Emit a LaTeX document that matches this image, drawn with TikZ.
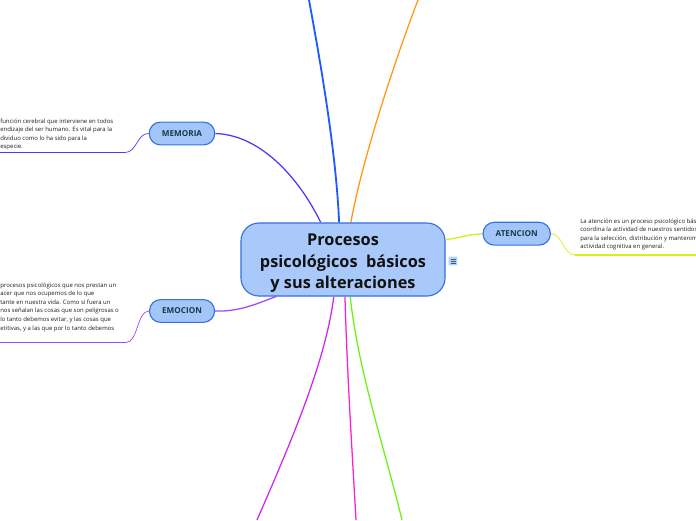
\documentclass[tikz,border=0pt]{standalone}
\usepackage{fontspec}
\setmainfont{Open Sans}
\usetikzlibrary{positioning, backgrounds}

\definecolor{hubfill}{RGB}{168,201,250}
\definecolor{hubline}{RGB}{52,112,222}
\definecolor{topicfill}{RGB}{162,198,250}
\definecolor{titletext}{RGB}{17,17,17}
\definecolor{topictext}{RGB}{22,58,70}
\definecolor{notetext}{RGB}{30,30,30}
\definecolor{memcol}{RGB}{85,55,240}
\definecolor{emocol}{RGB}{165,70,245}
\definecolor{atecol}{RGB}{215,240,20}
\definecolor{bluecol}{RGB}{30,90,255}
\definecolor{orangecol}{RGB}{255,150,20}
\definecolor{violetcol}{RGB}{205,40,240}
\definecolor{pinkcol}{RGB}{255,30,210}
\definecolor{greencol}{RGB}{110,240,20}
\definecolor{iconfill}{RGB}{182,210,250}
\definecolor{iconline}{RGB}{50,95,110}

\begin{document}
\begin{tikzpicture}[x=0.025cm, y=-0.025cm,
    hub/.style={rectangle, rounded corners=0.45cm, draw=hubline, fill=hubfill, line width=0.8pt, minimum width=5.1cm, minimum height=1.825cm, inner ysep=0pt, align=center, font=\fontsize{11.6}{15.3}\selectfont\bfseries, text=titletext},
    topic/.style={rectangle, rounded corners=0.28cm, draw=hubline, fill=topicfill, line width=0.8pt, minimum height=0.57cm, inner xsep=9pt, font=\fontsize{5.8}{7}\selectfont\bfseries, text=topictext},
    note/.style={align=left, inner sep=0pt, anchor=north west, font=\fontsize{4.25}{6.1}\selectfont, text=notetext},
    noteicon/.style={rectangle, rounded corners=0.6pt, fill=iconfill, minimum size=0.22cm, inner sep=0pt},
    branch/.style={line width=0.9pt},
    twig/.style={line width=0.5pt},
    leafline/.style={line width=1.3pt}]

    \useasboundingbox (0,0) rectangle (696,520);
    \clip (0,0) rectangle (696,520);

    % Central topic
    \node[hub] (hub) at (343,259.5) {\rule{0pt}{14pt}Procesos\\psicológicos~ básicos\\y sus alteraciones};
    \node[noteicon, path picture={
        \draw[iconline, line width=0.35pt] (path picture bounding box.center) ++(-2.5,-2) -- ++(5,0) ++(-5,2) -- ++(5,0) ++(-5,2) -- ++(5,0);}] (icon) at (453,261) {};

    % Topics
    \node[topic] (mem) at (182,133.5) {MEMORIA};
    \node[topic] (emo) at (182,311) {EMOCION};
    \node[topic] (ate) at (516.7,233.7) {ATENCION};

    % Notes
    \node[note] (memnote) at (0,118.3) {función cerebral que interviene en todos\\endizaje del ser humano. Es vital para la\\dividuo como lo ha sido para la\\especie.};
    \node[note] (emonote) at (0,282.3) {procesos psicológicos que nos prestan un\\acer que nos ocupemos de lo que\\tante en nuestra vida. Como si fuera un\\nos señalan las cosas que son peligrosas o\\lo tanto debemos evitar, y las cosas que\\etitivas, y a las que por lo tanto debemos};
    \node[note] (atenote) at (580,218.3) {La atención es un proceso psicológico bás\\coordina la actividad de nuestros sentidos\\para la selección, distribución y mantenim\\actividad cognitiva en general.};

    % Free ends
    \coordinate (memleaf) at (125,152.5);
    \coordinate (memend) at (0,152.5);
    \coordinate (emoleaf) at (126,342.5);
    \coordinate (emoend) at (0,342.5);
    \coordinate (ateleaf) at (575,255);
    \coordinate (ateend) at (696,255);
    \coordinate (topa) at (309,0);
    \coordinate (topb) at (418,0);
    \coordinate (bota) at (257,520);
    \coordinate (botb) at (356,520);
    \coordinate (botc) at (402,520);

    % Connectors
    \begin{scope}[on background layer]
        \draw[branch, memcol] (mem.east) .. controls (262,135) and (300,180) .. (hub.121);
        \draw[branch, emocol] (emo.east) .. controls (240,312) and (258,303) .. (hub.209);
        \draw[branch, atecol] (hub.11) .. controls (460,238) and (470,234) .. (ate.west);
        \draw[branch, line width=1.3pt, bluecol] (hub.96) .. controls (336,150) and (320,60) .. (topa);
        \draw[branch, orangecol] (hub.78) .. controls (362,160) and (395,60) .. (topb);
        \draw[branch, violetcol] (hub.-104) .. controls (326,360) and (292,440) .. (bota);
        \draw[branch, pinkcol] (hub.-87) .. controls (347,370) and (352,450) .. (botb);
        \draw[branch, greencol] (hub.-79) .. controls (358,370) and (385,450) .. (botc);
        % leaves
        \draw[twig, memcol] (mem.west) .. controls (137,133) and (137,152.5) .. (memleaf);
        \draw[leafline, memcol] (memleaf) -- (memend);
        \draw[twig, emocol] (emo.west) .. controls (137,311) and (138,342.5) .. (emoleaf);
        \draw[leafline, emocol] (emoleaf) -- (emoend);
        \draw[twig, atecol] (ate.east) .. controls (563,234) and (563,255) .. (ateleaf);
        \draw[leafline, atecol] (ateleaf) -- (ateend);
    \end{scope}
\end{tikzpicture}
\end{document}
